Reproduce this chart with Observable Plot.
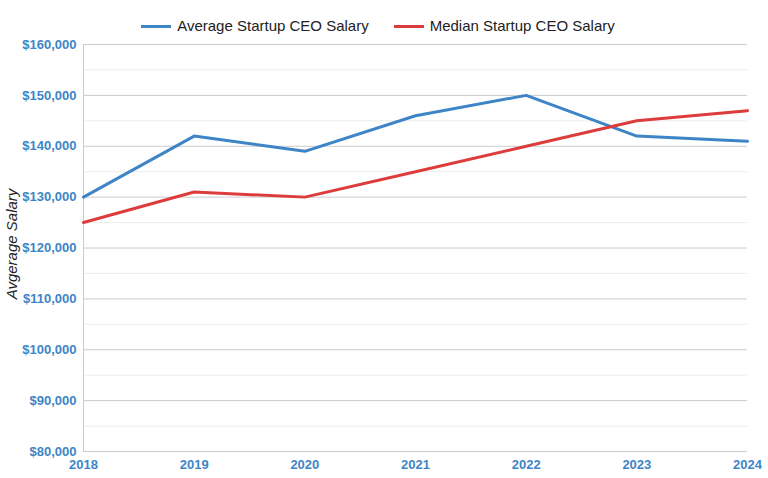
<!DOCTYPE html>
<html>
<head>
<meta charset="utf-8">
<script src="https://cdn.jsdelivr.net/npm/d3@7"></script>
<script src="https://cdn.jsdelivr.net/npm/@observablehq/plot@0.6"></script>
<style>
  body { margin: 0; background: #fff; font-family: "Liberation Sans", Arial, sans-serif; }
  #wrap { position: relative; width: 768px; height: 478px; }
  #legend { position: absolute; top: 14px; left: -6px; width: 768px; display: flex; justify-content: center; gap: 25px; font-size: 15px; color: #222; line-height: 24px; }
  #legend .item { display: flex; align-items: center; }
  #legend .sw { width: 30px; height: 3px; margin-right: 6px; display: inline-block; }
</style>
</head>
<body>
<div id="wrap">
  <div id="legend"></div>
  <div id="chart"></div>
</div>
<script>
const years = [2018, 2019, 2020, 2021, 2022, 2023, 2024];
const seriesNames = ["Average Startup CEO Salary", "Median Startup CEO Salary"];
const averageSalary = [130000, 142000, 139000, 146000, 150000, 142000, 141000];
const medianSalary = [125000, 131000, 130000, 135000, 140000, 145000, 147000];
const colors = ["#3d85c6", "#dd3c3c"];
const majorTicks = [80000, 90000, 100000, 110000, 120000, 130000, 140000, 150000, 160000];
const minorTicks = [85000, 95000, 105000, 115000, 125000, 135000, 145000, 155000];
const yTitle = "Avgerage Salary";

const data = [];
years.forEach((y, i) => {
  data.push({year: y, value: averageSalary[i], series: seriesNames[0]});
  data.push({year: y, value: medianSalary[i], series: seriesNames[1]});
});

const fmt = d3.format("$,");

const chart = Plot.plot({
  width: 768,
  height: 478,
  marginLeft: 83,
  marginRight: 21,
  marginTop: 44,
  marginBottom: 27,
  style: {fontFamily: "'Liberation Sans', Arial, sans-serif", background: "#fff"},
  x: {type: "linear", domain: [2018, 2024]},
  y: {domain: [80000, 160000]},
  color: {domain: seriesNames, range: colors},
  marks: [
    Plot.ruleY(minorTicks, {stroke: "#ececec", strokeWidth: 1}),
    Plot.ruleY(majorTicks, {stroke: "#cccccc", strokeWidth: 1}),
    Plot.ruleX([2018], {stroke: "#cccccc", strokeWidth: 1}),
    Plot.axisY(majorTicks, {tickSize: 0, tickPadding: 7, tickFormat: fmt, fill: "#3d85c6", fontWeight: "bold", fontSize: 13, label: null}),
    Plot.axisX(years, {tickSize: 0, tickPadding: 8, tickFormat: d => String(d), fill: "#3d85c6", fontWeight: "bold", fontSize: 13, label: null}),
    Plot.text([yTitle], {frameAnchor: "left", dx: -71, dy: -4, rotate: -90, textAnchor: "middle", text: d => d, fontSize: 15, fontStyle: "italic", fill: "#222"}),
    Plot.line(data, {x: "year", y: "value", stroke: "series", strokeWidth: 3, strokeLinejoin: "round", strokeLinecap: "round"})
  ]
});
document.getElementById("chart").appendChild(chart);

const legend = document.getElementById("legend");
seriesNames.forEach((name, i) => {
  const item = document.createElement("div");
  item.className = "item";
  const sw = document.createElement("span");
  sw.className = "sw";
  sw.style.background = colors[i];
  const t = document.createElement("span");
  t.textContent = name;
  item.appendChild(sw);
  item.appendChild(t);
  legend.appendChild(item);
});
</script>
</body>
</html>
